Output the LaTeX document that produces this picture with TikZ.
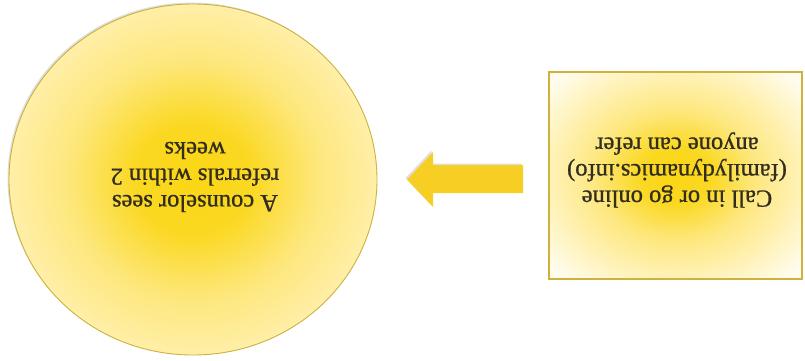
\documentclass[tikz,border=0pt]{standalone}
\usepackage{fontspec}
\setmainfont{Liberation Serif}
\newfontfamily\lblfont{Liberation Serif}[FakeBold=0.9]
\usetikzlibrary{shapes.geometric,shadows}
\definecolor{txt}{RGB}{50,45,30}
\definecolor{ycore}{RGB}{250,214,20}
\definecolor{ymid}{RGB}{252,226,95}
\definecolor{yedge}{RGB}{255,239,168}
\definecolor{ycorner}{RGB}{255,252,238}
\definecolor{rim}{RGB}{205,178,60}
\definecolor{arrowfill}{RGB}{247,206,35}
\pgfdeclareradialshading{sunball}{\pgfpoint{0bp}{0bp}}{color(0bp)=(ycore); color(8bp)=(ycore!80!ymid); color(17bp)=(ymid!60!yedge); color(25bp)=(yedge); color(50bp)=(yedge)}
\pgfdeclareradialshading{sunbox}{\pgfpoint{0bp}{0bp}}{color(0bp)=(ycore); color(7bp)=(ycore!80!ymid); color(16bp)=(ymid!55!yedge); color(25bp)=(yedge!75!ycorner); color(33bp)=(ycorner); color(50bp)=(ycorner)}
\tikzset{
  lbl/.style={text=txt, font=\lblfont\fontsize{24.5}{26.5}\selectfont, align=center, rotate=180},
  sh/.style={drop shadow={shadow xshift=-1.5pt, shadow yshift=1.5pt, opacity=0.25}},
  ball/.style={ellipse, draw=rim, line width=0.9pt, shading=sunball, sh, minimum width=368pt, minimum height=351pt, inner sep=0pt},
  box/.style={rectangle, draw=rim, line width=1.4pt, shading=sunbox, sh, minimum width=253pt, minimum height=207pt, inner sep=0pt},
}
\begin{document}
\begin{tikzpicture}[x=1pt,y=1pt]
\useasboundingbox (0,0) rectangle (805,360);
\node[ball] (circ) at (193,180.5) {};
\node[box] (rect) at (675.5,184.5) {};
\node[lbl] (ctext) at (195,183) {A counselor sees\\referrals within 2\\weeks};
\node[lbl] (rtext) at (677,190) {Call in or go online\\(familydynamics.info)\\anyone can refer};
\fill[arrowfill, sh] (523,195) -- (433,195) -- (433,208) -- (407,180.5) -- (433,153) -- (433,167) -- (523,167) -- cycle;
\end{tikzpicture}
\end{document}
